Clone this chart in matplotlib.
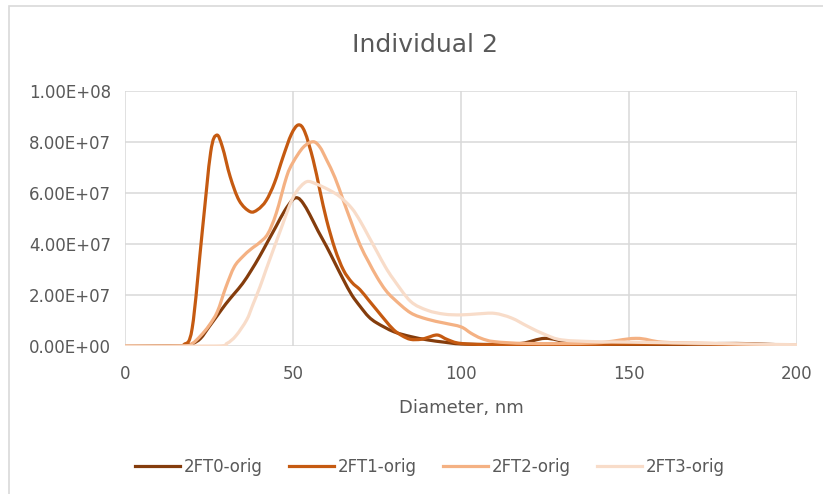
import numpy as np
import matplotlib
matplotlib.use("Agg")
import matplotlib.pyplot as plt
from matplotlib.path import Path
from matplotlib.patches import PathPatch, Rectangle
from matplotlib.lines import Line2D

plt.rcParams['font.family'] = ['DejaVu Sans']

# diameters (nm) and concentrations (particles/ml, in units of 1e6)
d0 = [0, 15, 18, 20, 22.5, 25, 27.5, 30, 32.5, 35, 37.5, 40, 42.5, 45, 47.5, 50, 51.5, 53,
      55, 57.5, 60, 62.5, 65, 67.5, 70, 72.5, 75, 80, 85, 90, 95, 100, 110, 118, 125, 132,
      140, 160, 182, 200]
v0 = [0, 0, 0.3, 0.8, 3, 7.5, 12, 16.5, 20.5, 24.5, 29.5, 35, 41, 47, 53, 57.5, 58, 56,
      51.5, 45, 39, 32.5, 26, 20, 15.5, 11.5, 9, 5.6, 3.7, 2.4, 1.5, 0.8, 0.6, 1, 3, 1.5,
      0.6, 0.5, 1, 0.2]

d1 = [0, 15, 17.5, 20, 23, 25.5, 27.3, 29, 31.3, 34, 37.2, 39.5, 42, 44.5, 47, 49.5, 51.6,
      53.5, 56, 58, 60, 62.5, 65, 67.5, 70, 72.5, 75, 77.5, 80, 82.5, 85, 88, 90, 93, 96,
      100, 110, 130, 150, 170, 185, 200]
v1 = [0, 0, 0.5, 7, 45, 76, 82.7, 78, 66.4, 57, 52.7, 53.5, 57, 64, 74, 83, 86.7,
      84, 73, 61, 49.4, 38, 29.8, 25, 22, 18, 14, 10, 6.3, 4, 2.6, 2.6, 3.3, 4.3, 2.5,
      1, 0.5, 0.5, 0.8, 0.8, 0.4, 0.1]

d2 = [0, 17, 20, 22.5, 25, 27.5, 30, 32.5, 35, 37.5, 40, 42.5, 45, 48.1, 50, 53.1, 56,
      58, 60, 62.5, 65, 67.5, 70, 72.5, 75, 77.5, 80, 85, 90, 95, 100, 103, 106, 110, 120,
      140, 152, 160, 175, 200]
v2 = [0, 0, 1, 4, 8, 13.5, 23, 31, 35, 38, 40.5, 44, 52, 66.4, 72, 78, 80.1,
      78, 73, 66, 57, 48, 39.5, 33, 27, 22, 18.5, 13, 10.5, 9, 7.5, 5, 3, 1.7, 1,
      1.2, 3, 1.5, 1, 0.3]

d3 = [0, 27, 30.3, 33, 36.2, 38, 40.2, 42, 44.1, 47, 49.1, 51, 54, 57, 61, 64, 67.5,
      70, 72.5, 75, 77.5, 80, 85, 90, 95, 100, 105, 110, 115, 120, 125, 130, 140, 150,
      175, 200]
v3 = [0, 0, 1, 4, 10.2, 16, 23.3, 30, 37.6, 48, 55.5, 60.5, 64.4, 63.5, 61, 58.5, 54,
      49, 43, 37, 31, 26, 17.5, 14, 12.5, 12.2, 12.6, 12.8, 11, 7.6, 4.5, 2.4, 1.7, 1.5,
      1, 0.5]

series = [
    ("2FT0-orig", d0, v0, "#843C0C"),
    ("2FT1-orig", d1, v1, "#C55A11"),
    ("2FT2-orig", d2, v2, "#F4B183"),
    ("2FT3-orig", d3, v3, "#F8DCC9"),
]


def smooth_path(x, y):
    # Catmull-Rom -> cubic bezier, like Excel's smoothed line
    x = np.asarray(x, float)
    y = np.asarray(y, float)
    verts = [(x[0], y[0])]
    codes = [Path.MOVETO]
    n = len(x)
    for i in range(n - 1):
        x0, y0 = (x[i - 1], y[i - 1]) if i > 0 else (x[i], y[i])
        x3, y3 = (x[i + 2], y[i + 2]) if i + 2 < n else (x[i + 1], y[i + 1])
        c1 = (x[i] + (x[i + 1] - x0) / 6, y[i] + (y[i + 1] - y0) / 6)
        c2 = (x[i + 1] - (x3 - x[i]) / 6, y[i + 1] - (y3 - y[i]) / 6)
        verts += [c1, c2, (x[i + 1], y[i + 1])]
        codes += [Path.CURVE4] * 3
    return Path(verts, codes)


fig = plt.figure(figsize=(8.23, 4.94), dpi=100)
ax = fig.add_axes([125 / 823, 1 - 346 / 494, 672 / 823, 255 / 494])

# chart border (right and bottom edges fall outside the picture)
fig.patches.append(Rectangle((9 / 823, -0.05), 1.2, 1 - 6 / 494 + 0.05,
                             transform=fig.transFigure, fill=False,
                             edgecolor="#D9D9D9", linewidth=1.2))

handles = []
for name, d, v, col in series:
    vals = np.array(v) * 1e6
    p = smooth_path(d, vals)
    ax.add_patch(PathPatch(p, fill=False, edgecolor=col, linewidth=2.3,
                           capstyle="round", joinstyle="round", zorder=3))
    handles.append(Line2D([], [], color=col, linewidth=2.3, label=name))

ax.set_xlim(0, 200)
ax.set_ylim(0, 1e8)
ax.set_xticks([0, 50, 100, 150, 200])
ax.set_yticks(np.arange(0, 1.01e8, 2e7))
ax.set_yticklabels(["%.2E" % t for t in np.arange(0, 1.01e8, 2e7)])
ax.grid(True, color="#D9D9D9", linewidth=1.1)
ax.set_axisbelow(True)
for s in ax.spines.values():
    s.set_visible(False)
ax.tick_params(length=0, labelsize=12, colors="#595959", pad=10)
ax.tick_params(axis="x", pad=14)

ax.set_xlabel("Diameter, nm", fontsize=13, color="#595959", labelpad=11)
fig.text(425 / 823, 1 - 45 / 494, "Individual 2", fontsize=18, color="#595959",
         ha="center", va="center")

fig.legend(handles=handles, loc="center", bbox_to_anchor=(430 / 823, 1 - 467 / 494),
           ncol=4, frameon=False, fontsize=12, handlelength=2.7, handletextpad=0.2,
           columnspacing=1.6, labelcolor="#595959")

fig.savefig("out.png", dpi=100)
